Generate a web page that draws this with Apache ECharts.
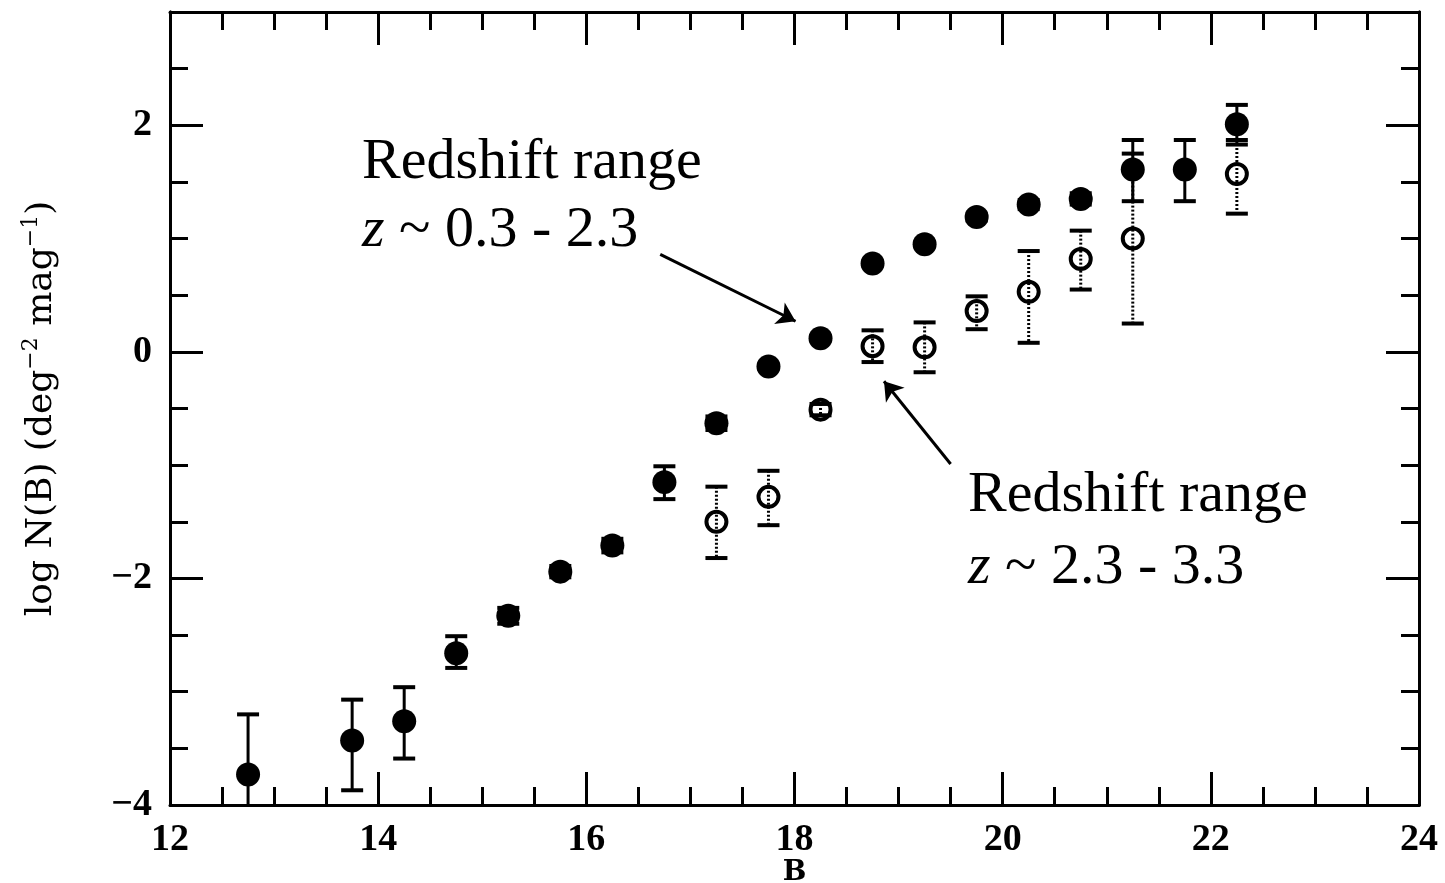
<!DOCTYPE html>
<html>
<head>
<meta charset="utf-8">
<script src="https://cdn.jsdelivr.net/npm/echarts@6/dist/echarts.min.js"></script>
<style>
html,body{margin:0;padding:0;background:#fff;}
#chart{width:1445px;height:883px;}
</style>
</head>
<body>
<div id="chart"></div>
<script>
// ---- Data ----
// Filled circles: z ~ 0.3 - 2.3
const filledB  = [12.75, 13.75, 14.25, 14.75, 15.25, 15.75, 16.25, 16.75, 17.25, 17.75, 18.25, 18.75, 19.25, 19.75, 20.25, 20.75, 21.25, 21.75, 22.25];
const filledY  = [-3.73, -3.43, -3.26, -2.66, -2.33, -1.94, -1.71, -1.15, -0.63, -0.13, 0.12, 0.78, 0.95, 1.19, 1.30, 1.35, 1.61, 1.61, 2.01];
const filledLo = [-4.30, -3.87, -3.59, -2.79, -2.40, -1.99, -1.77, -1.30, -0.69, -0.15, 0.10, 0.76, 0.93, 1.16, 1.26, 1.30, 1.33, 1.33, 1.83];
const filledHi = [-3.20, -3.07, -2.96, -2.51, -2.26, -1.89, -1.65, -1.01, -0.57, -0.11, 0.14, 0.80, 0.97, 1.22, 1.34, 1.40, 1.87, 1.87, 2.18];
// Open circles: z ~ 2.3 - 3.3
const openB  = [17.25, 17.75, 18.25, 18.75, 19.25, 19.75, 20.25, 20.75, 21.25, 22.25];
const openY  = [-1.50, -1.28, -0.51, 0.05, 0.04, 0.36, 0.53, 0.82, 1.00, 1.57];
const openLo = [-1.82, -1.53, -0.56, -0.09, -0.18, 0.20, 0.08, 0.55, 0.25, 1.22];
const openHi = [-1.19, -1.05, -0.46, 0.19, 0.26, 0.49, 0.89, 1.07, 1.75, 1.87];
// Axis ranges / ticks
const xRange = [12, 24];
const yRange = [-4, 3];
const majorStep = 2;
const minorStep = 0.5;
// Annotations
const annotation1 = ['Redshift range', '0.3 - 2.3'];
const annotation2 = ['Redshift range', '2.3 - 3.3'];
const arrow1 = [[16.71, 0.86], [18.01, 0.27]];
const arrow2 = [[19.50, -0.99], [18.86, -0.26]];

// ---- Build ----
const fmt = v => String(v).replace('-', '\u2212');
const labelFont = {fontFamily: 'Liberation Serif', fontWeight: 'bold', fontSize: 38, color: '#000'};
const lineCol = '#000';

function errBars(dotted) {
  return function (params, api) {
    const x = api.value(0), lo = api.value(1), hi = api.value(2);
    const p1 = api.coord([x, hi]);
    const p2 = api.coord([x, lo]);
    const w = 11;
    const vStyle = {stroke: '#000', lineWidth: 3};
    if (dotted) vStyle.lineDash = [2, 2];
    return {
      type: 'group',
      children: [
        {type: 'line', shape: {x1: p1[0], y1: p1[1], x2: p2[0], y2: p2[1]}, style: vStyle},
        {type: 'line', shape: {x1: p1[0] - w, y1: p1[1], x2: p1[0] + w, y2: p1[1]}, style: {stroke: '#000', lineWidth: 4}},
        {type: 'line', shape: {x1: p2[0] - w, y1: p2[1], x2: p2[0] + w, y2: p2[1]}, style: {stroke: '#000', lineWidth: 4}}
      ]
    };
  };
}

const filledPts = filledB.map((b, i) => [b, filledY[i]]);
const filledErr = filledB.map((b, i) => [b, filledLo[i], filledHi[i]]);
const openPts = openB.map((b, i) => [b, openY[i]]);
const openErr = openB.map((b, i) => [b, openLo[i], openHi[i]]);

const baseX = {
  type: 'value', min: xRange[0], max: xRange[1], interval: majorStep,
  axisLine: {show: true, onZero: false, lineStyle: {color: lineCol, width: 3}},
  axisTick: {show: true, inside: true, length: 33, lineStyle: {color: lineCol, width: 3}},
  minorTick: {show: true, splitNumber: majorStep / minorStep, length: 18, lineStyle: {color: lineCol, width: 3}},
  splitLine: {show: false}
};
function yAx(pos, step, len, labels) {
  return {
    type: 'value', position: pos, min: yRange[0], max: yRange[1], interval: step,
    axisLine: {show: true, onZero: false, lineStyle: {color: lineCol, width: 3}},
    axisTick: {show: true, inside: true, length: len, lineStyle: {color: lineCol, width: 3}},
    axisLabel: labels ? Object.assign({show: true, margin: 18, formatter: v => (v % majorStep === 0 ? fmt(v) : '')}, labelFont) : {show: false},
    splitLine: {show: false}
  };
}

const yLeft = yAx('left', majorStep, 33, true);
yLeft.name = '{t|log N(B) (deg}{s|\u22122}{t| mag}{s|\u22121}{t|)}';
yLeft.nameLocation = 'middle';
yLeft.nameGap = 106;
yLeft.nameRotate = 90;
yLeft.nameMoveOverlap = false;
yLeft.nameTextStyle = {
  rich: {
    t: {fontFamily: 'DejaVu Serif', fontSize: 36, color: '#000', lineHeight: 44, verticalAlign: 'middle'},
    s: {fontFamily: 'DejaVu Serif', fontSize: 22, color: '#000', lineHeight: 22, verticalAlign: 'top'}
  }
};

function annText(lines, x, y1, y2) {
  const rich = {
    a: {fontFamily: 'Liberation Serif', fontSize: 58, fill: '#000'},
    i: {fontFamily: 'Liberation Serif', fontStyle: 'italic', fontSize: 58, fill: '#000'}
  };
  return [
    {type: 'text', x: x, y: y1, z: 10, style: {text: lines[0], font: '58px "Liberation Serif"', fill: '#000', align: 'left', verticalAlign: 'middle'}},
    {type: 'text', x: x, y: y2, z: 10, style: {text: '{i|z}{a| ~ ' + lines[1] + '}', rich: rich, align: 'left', verticalAlign: 'middle'}}
  ];
}

const option = {
  animation: false,
  backgroundColor: '#fff',
  grid: {left: 170, right: 26, top: 12, bottom: 78, containLabel: false, outerBoundsMode: 'none'},
  xAxis: [
    Object.assign({}, baseX, {
      position: 'bottom',
      axisLabel: Object.assign({show: true, margin: 16, formatter: v => fmt(v)}, labelFont),
      name: 'B', nameLocation: 'middle', nameGap: 54, nameMoveOverlap: false,
      nameTextStyle: {fontFamily: 'DejaVu Serif', fontWeight: 'bold', fontSize: 28, color: '#000', verticalAlign: 'top'}
    }),
    Object.assign({}, baseX, {position: 'top', axisLabel: {show: false}})
  ],
  yAxis: [
    yLeft,
    yAx('left', minorStep, 18, false),
    yAx('right', majorStep, 33, false),
    yAx('right', minorStep, 18, false)
  ],
  series: [
    {
      type: 'custom', name: 'filledErr', renderItem: errBars(false), data: filledErr,
      xAxisIndex: 0, yAxisIndex: 0, clip: true, z: 3,
      encode: {x: 0, y: [1, 2]}
    },
    {
      type: 'scatter', name: 'z 0.3-2.3', data: filledPts, xAxisIndex: 0, yAxisIndex: 0,
      symbol: 'circle', symbolSize: 24, itemStyle: {color: '#000', opacity: 1}, z: 4,
      markLine: {
        silent: true, symbol: ['none', 'arrow'], symbolSize: 18,
        lineStyle: {color: '#000', width: 3, type: 'solid'}, label: {show: false},
        data: [
          [{coord: arrow1[0]}, {coord: arrow1[1]}],
          [{coord: arrow2[0]}, {coord: arrow2[1]}]
        ]
      }
    },
    {
      type: 'scatter', name: 'z 2.3-3.3', data: openPts, xAxisIndex: 0, yAxisIndex: 0,
      symbol: 'circle', symbolSize: 20,
      itemStyle: {color: '#fff', borderColor: '#000', borderWidth: 4, opacity: 1}, z: 5
    },
    {
      type: 'custom', name: 'openErr', renderItem: errBars(true), data: openErr,
      xAxisIndex: 0, yAxisIndex: 0, clip: true, z: 6,
      encode: {x: 0, y: [1, 2]}
    }
  ],
  graphic: annText(annotation1, 362, 163, 231).concat(annText(annotation2, 968, 496, 568))
};

const chart = echarts.init(document.getElementById('chart'), null, {renderer: 'canvas'});
chart.setOption(option);
</script>
</body>
</html>
